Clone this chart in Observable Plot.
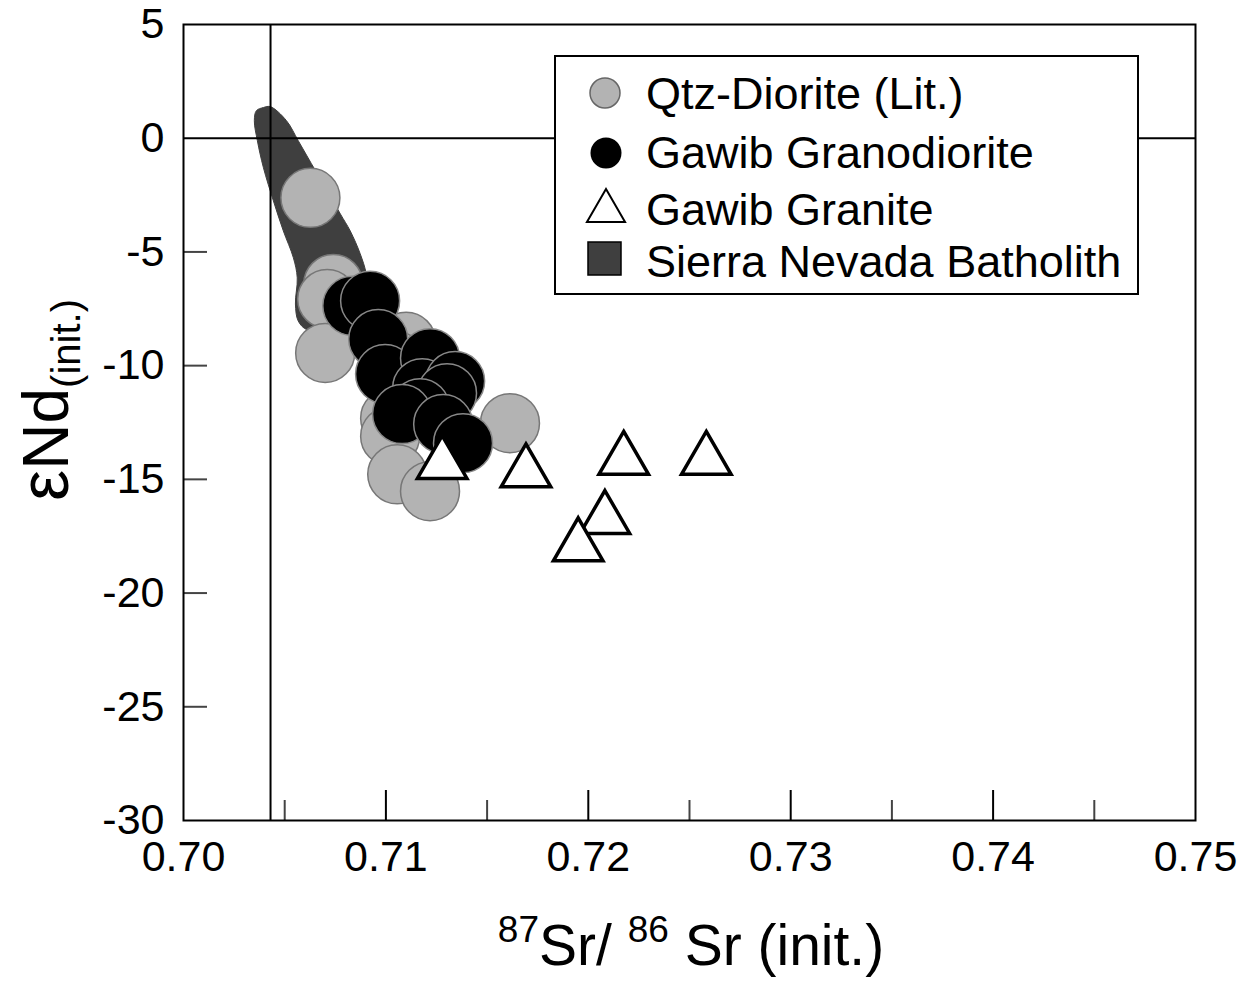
<!DOCTYPE html>
<html>
<head>
<meta charset="utf-8">
<script src="https://cdn.jsdelivr.net/npm/d3@7"></script>
<script src="https://cdn.jsdelivr.net/npm/@observablehq/plot@0.6"></script>
<style>
  html, body { margin: 0; padding: 0; background: #fff; }
  #chart { position: relative; width: 1247px; height: 985px; }
</style>
</head>
<body>
<div id="chart"></div>
<script>
// ---- data ----
const qtzX = [0.70627, 0.70740, 0.70710, 0.70700, 0.71100, 0.71040, 0.71021, 0.71021, 0.71056, 0.71218, 0.71613];
const qtzY = [-2.62, -6.41, -7.07, -9.44, -8.95, -9.75, -12.31, -13.10, -14.78, -15.52, -12.53];

const granodX = [0.70834, 0.70922, 0.70962, 0.70996, 0.71218, 0.71179, 0.71342, 0.71302, 0.71169, 0.71080, 0.71283, 0.71381];
const granodY = [-7.37, -7.15, -8.83, -10.37, -9.67, -10.99, -10.68, -11.21, -11.87, -12.13, -12.57, -13.41];

const graniteX = [0.71278, 0.71692, 0.72175, 0.72583, 0.72082, 0.71950];
const graniteY = [-14.33, -14.70, -14.15, -14.15, -16.75, -17.95];

// Sierra Nevada Batholith field outline
const sierraX = [0.70395, 0.70429, 0.70508, 0.70567, 0.70632, 0.70710, 0.70775, 0.70824, 0.70873, 0.70903, 0.70913, 0.70873, 0.70750, 0.70612, 0.70567, 0.70553, 0.70562, 0.70543, 0.70493, 0.70444, 0.70395, 0.70365, 0.70350, 0.70360];
const sierraY = [1.35, 1.39, 0.78, -0.11, -1.12, -2.31, -3.33, -4.08, -5.08, -5.96, -6.93, -7.81, -8.39, -8.43, -8.04, -7.29, -6.14, -5.26, -4.07, -2.75, -1.30, -0.11, 0.77, 1.21];

const bulkEarthSr = 0.7043;
const xTicks = [0.70, 0.71, 0.72, 0.73, 0.74, 0.75];
const xMajorInner = [0.71, 0.72, 0.73, 0.74];
const xMinorInner = [0.705, 0.715, 0.725, 0.735, 0.745];
const yTicks = [-30, -25, -20, -15, -10, -5, 0, 5];
const yInner = [-25, -20, -15, -10, -5];

const legendLabels = ["Qtz-Diorite (Lit.)", "Gawib Granodiorite", "Gawib Granite", "Sierra Nevada Batholith"];

// ---- layout ----
const W = 1247, H = 985;
const mL = 183, mR = 52, mT = 24, mB = 165;
const xDom = [0.70, 0.75], yDom = [-30, 5];
const pxPerX = (W - mL - mR) / (xDom[1] - xDom[0]);
const pxPerY = (H - mT - mB) / (yDom[1] - yDom[0]);

const toRows = (xs, ys) => xs.map((x, i) => ({x, y: ys[i]}));
const qtz = toRows(qtzX, qtzY);
const granod = toRows(granodX, granodY);
const granite = toRows(graniteX, graniteY);
const sierra = toRows(sierraX, sierraY);

const GREY = "#b3b3b3", DARK = "#3f3f3f";
const FF = "'Liberation Sans', Arial, sans-serif";

const plot = Plot.plot({
  width: W, height: H,
  marginLeft: mL, marginRight: mR, marginTop: mT, marginBottom: mB,
  style: {fontFamily: FF, fontSize: "43px", color: "#000", background: "#fff"},
  x: {domain: xDom},
  y: {domain: yDom},
  marks: [
    Plot.line(sierra, {x: "x", y: "y", curve: "catmull-rom-closed", fill: DARK, stroke: DARK, strokeWidth: 1}),
    Plot.ruleY([0], {stroke: "#000", strokeWidth: 2}),
    Plot.ruleX([bulkEarthSr], {stroke: "#000", strokeWidth: 2}),
    // inward ticks
    Plot.ruleX(xMajorInner, {x: d => d, y1: yDom[0], y2: yDom[0] + 30 / pxPerY, stroke: "#000", strokeWidth: 2}),
    Plot.ruleX(xMinorInner, {x: d => d, y1: yDom[0], y2: yDom[0] + 20 / pxPerY, stroke: "#444", strokeWidth: 2}),
    Plot.ruleY(yInner, {y: d => d, x1: xDom[0], x2: xDom[0] + 24 / pxPerX, stroke: "#444", strokeWidth: 2}),
    Plot.dot(qtz, {x: "x", y: "y", r: 29.5, fill: GREY, stroke: "#777", strokeWidth: 1.5}),
    Plot.dot(granod, {x: "x", y: "y", r: 29.5, fill: "#000", stroke: "#888", strokeWidth: 1.5}),
    Plot.dot(granite, {x: "x", y: "y", r: 18.4, symbol: "triangle", fill: "#fff", stroke: "#000", strokeWidth: 3.5}),
    Plot.frame({stroke: "#000", strokeWidth: 2}),
    Plot.axisX({ticks: xTicks, tickFormat: d3.format(".2f"), tickSize: 0, tickPadding: 20, label: null, fontSize: 43}),
    Plot.axisY({ticks: yTicks, tickFormat: d => String(d), tickSize: 0, tickPadding: 19, label: null, fontSize: 43})
  ]
});

document.getElementById("chart").appendChild(plot);

// ---- axis titles and legend, appended to the same SVG ----
const svg = d3.select(plot);

// x title: 87Sr/86Sr (init.)
const xt = svg.append("text")
  .attr("x", 691).attr("y", 965)
  .attr("text-anchor", "middle")
  .attr("font-family", FF).attr("font-size", 57).attr("fill", "#000");
xt.append("tspan").attr("font-size", 37).attr("dy", -23).text("87");
xt.append("tspan").attr("dy", 23).text("Sr/ ");
xt.append("tspan").attr("font-size", 37).attr("dy", -23).text("86");
xt.append("tspan").attr("dy", 23).text(" Sr (init.)");

// y title: εNd(init.)
const yt = svg.append("text")
  .attr("transform", "translate(68,400) rotate(-90)")
  .attr("text-anchor", "middle")
  .attr("font-family", FF).attr("font-size", 64).attr("fill", "#000");
yt.append("tspan").attr("font-size", 70).text("ε");
yt.append("tspan").text("Nd");
yt.append("tspan").attr("font-size", 40).attr("dy", 12).text("(init.)");

// legend
const lg = svg.append("g").attr("text-anchor", "start");
lg.append("rect").attr("x", 555).attr("y", 56).attr("width", 583).attr("height", 238)
  .attr("fill", "#fff").attr("stroke", "#000").attr("stroke-width", 2);
const rowsY = [94, 153, 210, 262];
lg.append("circle").attr("cx", 605).attr("cy", 93).attr("r", 15).attr("fill", GREY).attr("stroke", "#666").attr("stroke-width", 1.5);
lg.append("circle").attr("cx", 606).attr("cy", 153).attr("r", 15.5).attr("fill", "#000");
lg.append("path").attr("d", d3.symbol(d3.symbolTriangle, 121 * 3 * Math.sqrt(3))())
  .attr("transform", "translate(606,211)").attr("fill", "#fff").attr("stroke", "#000").attr("stroke-width", 2);
lg.append("rect").attr("x", 588).attr("y", 242).attr("width", 33).attr("height", 33)
  .attr("fill", DARK).attr("stroke", "#000").attr("stroke-width", 1.5);
legendLabels.forEach((t, i) => {
  lg.append("text").attr("x", 646).attr("y", rowsY[i] + 15).attr("text-anchor", "start")
    .attr("font-family", FF).attr("font-size", 45).attr("fill", "#000").text(t);
});
</script>
</body>
</html>
